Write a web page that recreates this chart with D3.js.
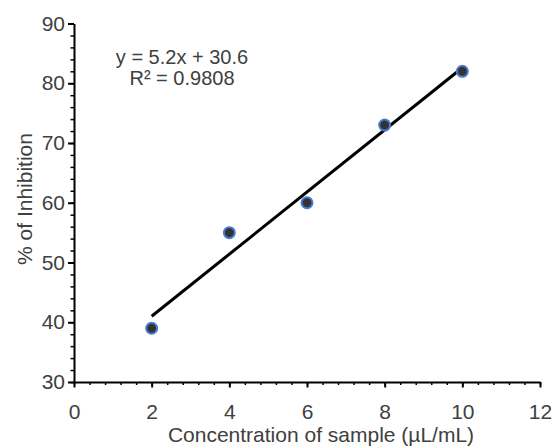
<!DOCTYPE html>
<html>
<head>
<meta charset="utf-8">
<script src="https://cdn.jsdelivr.net/npm/d3@7"></script>
<style>
  body { margin: 0; background: #fff; }
  text { font-family: "Liberation Sans", Arial, sans-serif; }
</style>
</head>
<body>
<div class="chart"></div>
<script>
// data
const concentration = [2, 4, 6, 8, 10];
const inhibition = [39, 55, 60, 73, 82];
const slope = 5.2, intercept = 30.6;
const eqLabels = ["y = 5.2x + 30.6", "R\u00b2 = 0.9808"];
const xTicks = [0, 2, 4, 6, 8, 10, 12];
const yTicks = [30, 40, 50, 60, 70, 80, 90];

const W = 555, H = 448;
const margin = {top: 23.5, right: 15, bottom: 66, left: 74};
const width = W - margin.left - margin.right;
const height = H - margin.top - margin.bottom;
const fs = 21;
const textCol = "#404040";

var svg = d3.select(".chart")
    .append("svg")
    .attr("width", W)
    .attr("height", H)
    .append("g")
    .attr("transform", "translate(" + margin.left + "," + margin.top + ")");

var x = d3.scaleLinear().domain([0, 12]).range([0, 466]);
var y = d3.scaleLinear().domain([30, 90]).range([height, 0]);

// minor ticks
svg.append("g")
    .attr("transform", "translate(0," + height + ")")
    .call(d3.axisBottom(x).tickValues(d3.range(0, 12.01, 0.4)).tickSize(3).tickFormat(""))
    .call(g => g.select(".domain").remove())
    .call(g => g.selectAll("line").attr("stroke", "#000").attr("stroke-width", 1.5));

svg.append("g")
    .call(d3.axisLeft(y).tickValues(d3.range(30, 90.1, 2)).tickSize(3.5).tickFormat(""))
    .call(g => g.select(".domain").remove())
    .call(g => g.selectAll("line").attr("stroke", "#000").attr("stroke-width", 1.5));

// major ticks + labels
var xAxis = svg.append("g")
    .attr("transform", "translate(0," + height + ")")
    .call(d3.axisBottom(x).tickValues(xTicks).tickSize(5.5).tickSizeOuter(0).tickPadding(17));
xAxis.select(".domain").attr("stroke", "#000").attr("stroke-width", 2);
xAxis.selectAll("line").attr("stroke", "#000").attr("stroke-width", 2);
xAxis.selectAll("text").attr("font-size", fs).attr("fill", textCol);

var yAxis = svg.append("g")
    .call(d3.axisLeft(y).tickValues(yTicks).tickSize(6).tickSizeOuter(0).tickPadding(3));
yAxis.select(".domain").attr("stroke", "#000").attr("stroke-width", 2);
yAxis.selectAll("line").attr("stroke", "#000").attr("stroke-width", 2);
yAxis.selectAll("text").attr("font-size", fs).attr("fill", textCol);

// trend line
svg.append("line")
    .attr("x1", x(concentration[0]))
    .attr("y1", y(slope * concentration[0] + intercept))
    .attr("x2", x(concentration[concentration.length - 1]))
    .attr("y2", y(slope * concentration[concentration.length - 1] + intercept))
    .attr("stroke", "#000")
    .attr("stroke-width", 3);

// points
svg.selectAll("circle")
    .data(concentration)
    .enter()
    .append("circle")
    .attr("cx", function(d) { return x(d); })
    .attr("cy", function(d, i) { return y(inhibition[i]); })
    .attr("r", 5.5)
    .attr("fill", "#333333")
    .attr("stroke", "#4a7bd0")
    .attr("stroke-width", 2);

// equation
svg.selectAll(".eq")
    .data(eqLabels)
    .enter()
    .append("text")
    .attr("class", "eq")
    .attr("x", 108)
    .attr("y", function(d, i) { return 40.5 + i * 20.5; })
    .attr("text-anchor", "middle")
    .attr("font-size", 20)
    .attr("fill", textCol)
    .text(function(d) { return d; });

// axis titles
svg.append("text")
    .attr("x", 247)
    .attr("y", height + 60)
    .attr("text-anchor", "middle")
    .attr("font-size", fs)
    .attr("fill", textCol)
    .text("Concentration of sample (\u00b5L/mL)");

svg.append("text")
    .attr("transform", "translate(-42.5," + (199 - margin.top) + ") rotate(-90)")
    .attr("text-anchor", "middle")
    .attr("font-size", fs)
    .attr("fill", textCol)
    .text("% of Inhibition");
</script>
</body>
</html>
